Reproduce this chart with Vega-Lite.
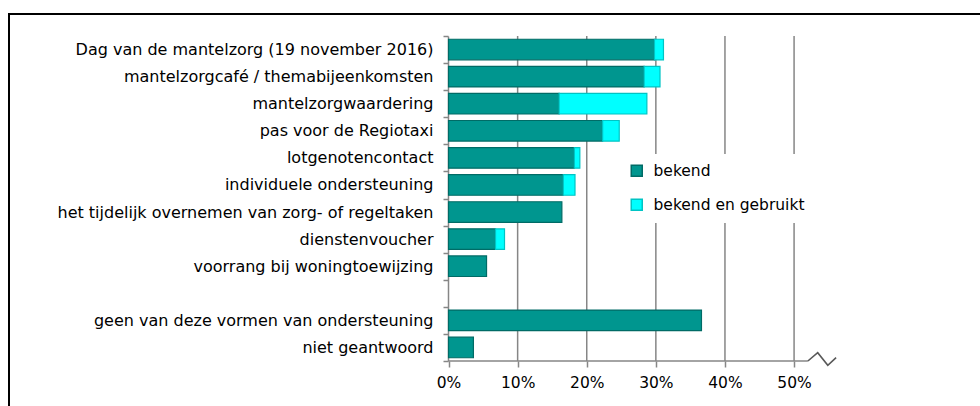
{
  "$schema": "https://vega.github.io/schema/vega-lite/v6.json",
  "width": 1000,
  "height": 420,
  "autosize": {"type": "none"},
  "padding": {"left": 9, "top": 14, "right": 0, "bottom": 0},
  "background": "white",
  "config": {
    "view": {"stroke": "#000000", "strokeWidth": 2},
    "font": "DejaVu Sans"
  },
  "datasets": {
    "grid": [{"g": 10}, {"g": 20}, {"g": 30}, {"g": 40}, {"g": 50}],
    "axisline": [{"from": 0, "to": 52, "item": "niet geantwoord"}],
    "brk": [
      {"x": 52.0, "z": 0},
      {"x": 53.42, "z": 1.19},
      {"x": 54.88, "z": -0.61},
      {"x": 56.08, "z": 0.47}
    ],
    "main": [
      {"item": "Dag van de mantelzorg (19 november 2016)", "series": "bekend", "value": 29.8},
      {"item": "Dag van de mantelzorg (19 november 2016)", "series": "bekend en gebruikt", "value": 1.3},
      {"item": "mantelzorgcafé / themabijeenkomsten", "series": "bekend", "value": 28.3},
      {"item": "mantelzorgcafé / themabijeenkomsten", "series": "bekend en gebruikt", "value": 2.3},
      {"item": "mantelzorgwaardering", "series": "bekend", "value": 16.0},
      {"item": "mantelzorgwaardering", "series": "bekend en gebruikt", "value": 12.7},
      {"item": "pas voor de Regiotaxi", "series": "bekend", "value": 22.3},
      {"item": "pas voor de Regiotaxi", "series": "bekend en gebruikt", "value": 2.4},
      {"item": "lotgenotencontact", "series": "bekend", "value": 18.2},
      {"item": "lotgenotencontact", "series": "bekend en gebruikt", "value": 0.8},
      {"item": "individuele ondersteuning", "series": "bekend", "value": 16.6},
      {"item": "individuele ondersteuning", "series": "bekend en gebruikt", "value": 1.7},
      {"item": "het tijdelijk overnemen van zorg- of regeltaken", "series": "bekend", "value": 16.4},
      {"item": "dienstenvoucher", "series": "bekend", "value": 6.8},
      {"item": "dienstenvoucher", "series": "bekend en gebruikt", "value": 1.3},
      {"item": "voorrang bij woningtoewijzing", "series": "bekend", "value": 5.5},
      {"item": "geen van deze vormen van ondersteuning", "series": "bekend", "value": 36.6},
      {"item": "niet geantwoord", "series": "bekend", "value": 3.6}
    ]
  },
  "resolve": {"scale": {"y": "independent"}},
  "layer": [
    {
      "layer": [
        {
          "data": {"name": "grid"},
          "mark": {"type": "rule", "color": "#868686", "strokeWidth": 1.5},
          "encoding": {
            "x": {"field": "g", "type": "quantitative", "title": null},
            "y": {"datum": "Dag van de mantelzorg (19 november 2016)", "type": "nominal", "bandPosition": 0},
            "y2": {"datum": "niet geantwoord", "bandPosition": 1}
          }
        },
        {
          "data": {"name": "main"},
          "mark": {"type": "bar", "height": {"band": 0.76}, "strokeWidth": 1.2},
          "encoding": {
            "y": {
              "field": "item",
              "type": "nominal",
              "title": null,
              "scale": {
                "domain": [
                  "Dag van de mantelzorg (19 november 2016)",
                  "mantelzorgcafé / themabijeenkomsten",
                  "mantelzorgwaardering",
                  "pas voor de Regiotaxi",
                  "lotgenotencontact",
                  "individuele ondersteuning",
                  "het tijdelijk overnemen van zorg- of regeltaken",
                  "dienstenvoucher",
                  "voorrang bij woningtoewijzing",
                  " ",
                  "geen van deze vormen van ondersteuning",
                  "niet geantwoord"
                ],
                "range": [22, 347],
                "paddingInner": 0,
                "paddingOuter": 0
              },
              "axis": {
                "orient": "left",
                "offset": -439,
                "domainColor": "#868686",
                "domainWidth": 1.5,
                "tickColor": "#868686",
                "tickWidth": 1.5,
                "tickSize": 5,
                "tickBand": "extent",
                "labelFontSize": 16,
                "labelColor": "#000000",
                "labelPadding": 10,
                "labelLimit": 500,
                "grid": false
              }
            },
            "x": {
              "field": "value",
              "type": "quantitative",
              "stack": "zero",
              "title": null,
              "scale": {"domain": [-63.6, 81.1], "nice": false, "zero": false},
              "axis": {
                "orient": "bottom",
                "offset": -73,
                "values": [0, 10, 20, 30, 40, 50],
                "labelExpr": "datum.value + '%'",
                "domain": false,
                "grid": false,
                "ticks": true,
                "tickColor": "#868686",
                "tickWidth": 1.5,
                "tickSize": 6,
                "labelFontSize": 15.5,
                "labelColor": "#000000",
                "labelPadding": 8
              }
            },
            "color": {
              "field": "series",
              "type": "nominal",
              "scale": {"domain": ["bekend", "bekend en gebruikt"], "range": ["#00968F", "#00FFFF"]},
              "legend": {
                "orient": "none",
                "legendX": 611,
                "legendY": 140,
                "title": null,
                "fillColor": "white",
                "padding": 9,
                "symbolType": "square",
                "symbolSize": 121,
                "symbolStrokeWidth": 1.5,
                "symbolOpacity": 1,
                "labelFontSize": 15.5,
                "labelColor": "#000000",
                "labelOffset": 9,
                "rowPadding": 16
              }
            },
            "stroke": {
              "field": "series",
              "type": "nominal",
              "scale": {"domain": ["bekend", "bekend en gebruikt"], "range": ["#006B66", "#00C4C4"]}
            },
            "order": {"field": "series", "sort": "ascending"}
          }
        },
        {
          "data": {"name": "axisline"},
          "mark": {"type": "rule", "color": "#868686", "strokeWidth": 1.6},
          "encoding": {
            "x": {"field": "from", "type": "quantitative"},
            "x2": {"field": "to"},
            "y": {"field": "item", "type": "nominal", "bandPosition": 1}
          }
        }
      ]
    },
    {
      "data": {"name": "brk"},
      "mark": {"type": "line", "color": "#595959", "strokeWidth": 1.6},
      "encoding": {
        "x": {"field": "x", "type": "quantitative"},
        "y": {
          "field": "z",
          "type": "quantitative",
          "scale": {"domain": [-10.43, 49.57], "nice": false, "zero": false},
          "axis": null
        },
        "order": {"field": "x"}
      }
    }
  ]
}
